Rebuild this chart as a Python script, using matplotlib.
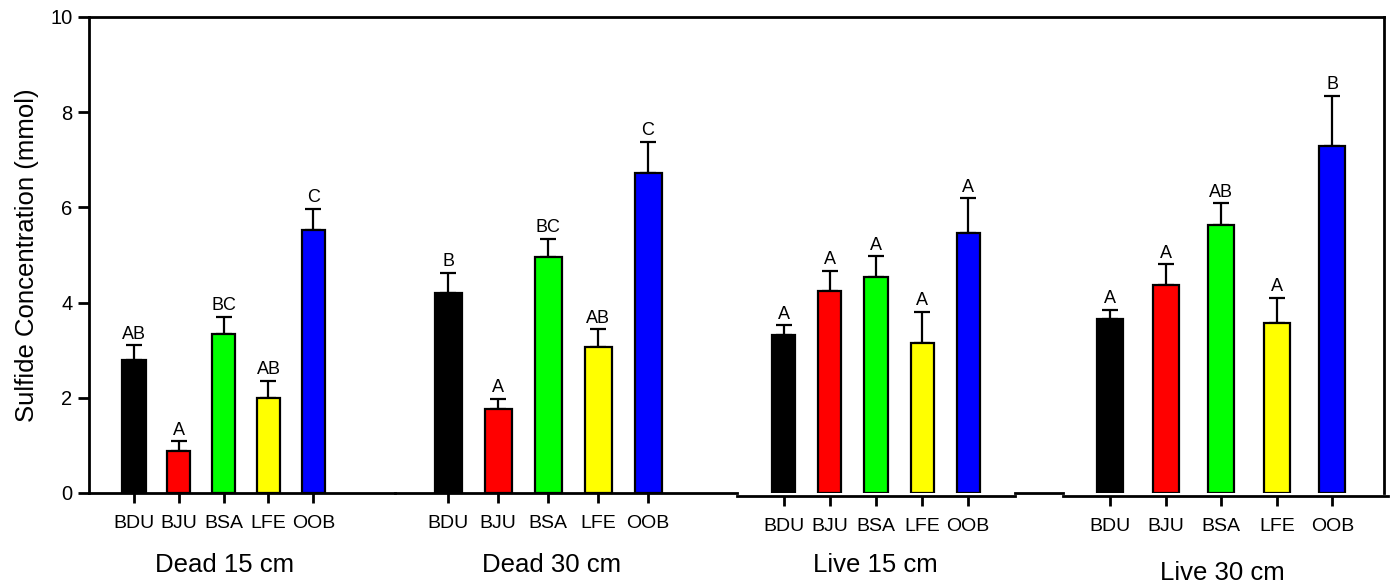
import numpy as np
import matplotlib.pyplot as plt

plt.rcParams['font.family'] = ['Liberation Sans', 'DejaVu Sans']

sites = ['BDU', 'BJU', 'BSA', 'LFE', 'OOB']
colors = ['#000000', '#ff0000', '#00ff00', '#ffff00', '#0000ff']
panels = ['Dead 15 cm', 'Dead 30 cm', 'Live 15 cm', 'Live 30 cm']

# mean sulfide and upper error (mean + SE) per site, per panel
means = [
    [2.79, 0.89, 3.34, 2.00, 5.52],
    [4.21, 1.77, 4.95, 3.06, 6.73],
    [3.32, 4.24, 4.53, 3.16, 5.47],
    [3.66, 4.37, 5.62, 3.57, 7.30],
]
tops = [
    [3.11, 1.09, 3.70, 2.36, 5.97],
    [4.63, 1.98, 5.34, 3.44, 7.38],
    [3.53, 4.67, 4.98, 3.81, 6.20],
    [3.85, 4.81, 6.09, 4.10, 8.35],
]
letters = [
    ['AB', 'A', 'BC', 'AB', 'C'],
    ['B', 'A', 'BC', 'AB', 'C'],
    ['A', 'A', 'A', 'A', 'A'],
    ['A', 'A', 'AB', 'A', 'B'],
]

W, H = 1395, 587
fig = plt.figure(figsize=(W / 100, H / 100), dpi=100)

y_top, y_bot = 17, 493
x_left, x_right = 89, 1384

# frame axes: y axis, top and right borders
frame = fig.add_axes([x_left / W, 1 - y_bot / H, (x_right - x_left) / W, (y_bot - y_top) / H])
frame.set_ylim(0, 10)
frame.set_xlim(0, 1)
frame.set_xticks([])
frame.set_yticks([0, 2, 4, 6, 8, 10])
frame.spines['bottom'].set_visible(False)
for s in ['left', 'top', 'right']:
    frame.spines[s].set_linewidth(2)
frame.tick_params(axis='y', direction='out', length=8, width=2, labelsize=14.5, pad=4)
frame.set_ylabel('Sulfide Concentration (mmol)', fontsize=18.5, labelpad=8)

# pixel span and x-limits for each panel's own x axis
spans = [(89, 395), (395, 737), (737, 1015), (1015, 1388)]
xlims = [(-1.0, 5.82), (-1.06, 5.78), (-1.02, 5.02), (-1.71, 5.0)]
widths = [0.52, 0.54, 0.5, 0.47]
drops = [0, 0, 2, 2]
title_x = [225, 552, 875, 1222]
title_y = [565, 565, 565, 573]

for i in range(4):
    x0, x1 = spans[i]
    ax = fig.add_axes([x0 / W, 1 - y_bot / H, (x1 - x0) / W, (y_bot - y_top) / H])
    ax.patch.set_alpha(0)
    ax.set_ylim(0, 10)
    ax.set_xlim(*xlims[i])
    for s in ['left', 'top', 'right']:
        ax.spines[s].set_visible(False)
    ax.spines['bottom'].set_linewidth(2)
    ax.spines['bottom'].set_position(('outward', drops[i]))
    ax.set_yticks([])
    x = np.arange(len(sites))
    m = np.array(means[i])
    err = np.array(tops[i]) - m
    ax.bar(x, m, width=widths[i], color=colors, edgecolor='black', linewidth=1.6,
           yerr=[np.zeros_like(err), err], zorder=3,
           error_kw=dict(ecolor='black', elinewidth=1.6, capsize=6, capthick=1.6, zorder=2))
    for xi, t, lab in zip(x, tops[i], letters[i]):
        ax.text(xi, t + 0.05, lab, ha='center', va='bottom', fontsize=13)
    ax.set_xticks(x)
    ax.set_xticklabels(sites)
    ax.tick_params(axis='x', direction='out', length=7, width=2, labelsize=14, pad=9)
    if i == 3:
        # short baseline stub at the left of the last panel, axis line starts after it
        ax.spines['bottom'].set_bounds(-0.85, xlims[i][1])
        ax.plot([xlims[i][0], -0.85], [0, 0], color='black', lw=2, clip_on=False)
    fig.text(title_x[i] / W, 1 - title_y[i] / H, panels[i],
             ha='center', va='center', fontsize=18.5)

fig.savefig('out.png', dpi=100)
